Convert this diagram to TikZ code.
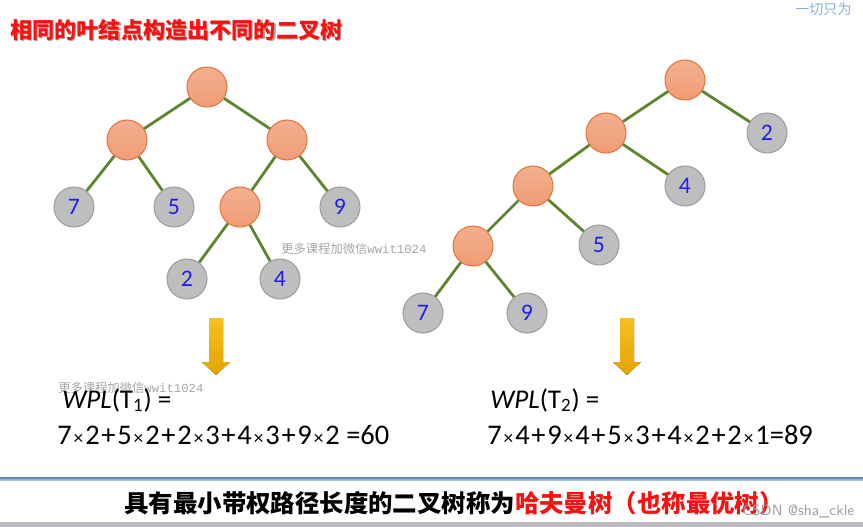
\documentclass[tikz,border=0pt]{standalone}
\usepackage{fontspec}
\usepackage{xcolor}
\usetikzlibrary{positioning}
\setmainfont{Carlito}
\newfontfamily\cjk{Noto Sans CJK SC}
\newfontfamily\monofont{Liberation Mono}
\definecolor{innerfill}{RGB}{240,156,116}
\definecolor{innerdraw}{RGB}{226,118,66}
\definecolor{leaffill}{RGB}{190,190,192}
\definecolor{leafdraw}{RGB}{158,158,160}
\definecolor{edgegreen}{RGB}{92,134,48}
\definecolor{digitblue}{RGB}{32,32,228}
\definecolor{arrowtop}{RGB}{246,192,32}
\definecolor{arrowbottom}{RGB}{228,164,0}
\definecolor{ruleblue}{RGB}{104,156,212}
\definecolor{bandgray}{RGB}{186,186,196}
\definecolor{titlered}{RGB}{250,16,16}
\newcommand{\by}{\kern1.1pt{\fontsize{11}{12}\selectfont ×}\kern1.1pt}
\newcommand{\pl}{\kern1pt+\kern1pt}

\begin{document}
\begin{tikzpicture}[
    x=0.02cm, y=-0.02cm,
    inner/.style={circle, draw=innerdraw, line width=0.6pt, top color=innerfill!80!white, bottom color=innerfill, minimum size=0.8cm, inner sep=0pt},
    leaf/.style={circle, draw=leafdraw, line width=0.6pt, fill=leaffill, minimum size=0.8cm, inner sep=0pt, text=digitblue, font=\fontsize{13.5}{14}\selectfont},
    edge/.style={draw=edgegreen, line width=1.6pt},
    bigarrow/.style={top color=arrowtop, bottom color=arrowbottom, draw=none},
    wmark/.style={text=gray!70, font=\monofont\fontsize{7}{8}\selectfont, inner sep=0pt}
]
    \useasboundingbox (0,0) rectangle (863,527);

    % Title
    \node[anchor=west, text=black!35, font=\cjk\bfseries\fontsize{12.6}{14}\selectfont, inner sep=0pt] (titleshadow) at (11.2,31.2) {相同的叶结点构造出不同的二叉树};
    \node[anchor=west, text=titlered, font=\cjk\bfseries\fontsize{12.6}{14}\selectfont, inner sep=0pt] (title) at (10,30) {相同的叶结点构造出不同的二叉树};
    \node[anchor=west, text=ruleblue!80, font=\cjk\fontsize{8}{9}\selectfont, inner sep=0pt] (motto) at (795,9) {一切只为};

    % Tree T1
    \node[inner] (a) at (207,87) {};
    \node[inner] (al) at (127,140) {};
    \node[inner] (ar) at (287,140) {};
    \node[leaf] (a7) at (74,207) {7};
    \node[leaf] (a5) at (174,207) {5};
    \node[inner] (arl) at (240,207) {};
    \node[leaf] (a9) at (340,207) {9};
    \node[leaf] (a2) at (187,279) {2};
    \node[leaf] (a4) at (280,279) {4};

    \draw[edge] (a) -- (al);
    \draw[edge] (a) -- (ar);
    \draw[edge] (al) -- (a7);
    \draw[edge] (al) -- (a5);
    \draw[edge] (ar) -- (arl);
    \draw[edge] (ar) -- (a9);
    \draw[edge] (arl) -- (a2);
    \draw[edge] (arl) -- (a4);

    % Tree T2
    \node[inner] (b) at (685,80) {};
    \node[inner] (bl) at (606,133) {};
    \node[leaf] (b2) at (767,133) {2};
    \node[inner] (bll) at (533,186) {};
    \node[leaf] (b4) at (685,186) {4};
    \node[inner] (blll) at (473,246) {};
    \node[leaf] (b5) at (599,245) {5};
    \node[leaf] (b7) at (423,313) {7};
    \node[leaf] (b9) at (527,313) {9};

    \draw[edge] (b) -- (bl);
    \draw[edge] (b) -- (b2);
    \draw[edge] (bl) -- (bll);
    \draw[edge] (bl) -- (b4);
    \draw[edge] (bll) -- (blll);
    \draw[edge] (bll) -- (b5);
    \draw[edge] (blll) -- (b7);
    \draw[edge] (blll) -- (b9);

    % Watermarks
    \node[wmark, anchor=west] (wm1) at (281,249) {{\cjk 更多课程加微信}wwit1024};
    \node[wmark, anchor=west] (wm2) at (58,388) {{\cjk 更多课程加微信}wwit1024};

    % Down arrows
    \fill[bigarrow] (209,318) -- (223,318) -- (223,362) -- (230,362) -- (216,375) -- (202,362) -- (209,362) -- cycle;
    \fill[bigarrow] (620,318) -- (634,318) -- (634,362) -- (641,362) -- (627,375) -- (613,362) -- (620,362) -- cycle;

    % Path lengths
    \node[anchor=base west, inner sep=0pt, font=\fontsize{15.4}{18}\selectfont] (wpl1) at (62,408) {\textit{WPL}(T\textsubscript{1}) =};
    \node[anchor=base west, inner sep=0pt, font=\fontsize{16.2}{18}\selectfont] (sum1) at (57,444) {7\by2\pl5\by2\pl2\by3\pl4\by3\pl9\by2 =60};
    \node[anchor=base west, inner sep=0pt, font=\fontsize{15.4}{18}\selectfont] (wpl2) at (490,408) {\textit{WPL}(T\textsubscript{2}) =};
    \node[anchor=base west, inner sep=0pt, font=\fontsize{16.2}{18}\selectfont] (sum2) at (487,444) {7\by4\pl9\by4\pl5\by3\pl4\by2\pl2\by1=89};

    % Bottom band
    \fill[top color=ruleblue!80!black, bottom color=ruleblue!60] (0,477) rectangle (863,480);
    \fill[bandgray] (0,522) rectangle (863,527);
    \node[anchor=west, inner sep=0pt, font=\cjk\bfseries\fontsize{13.9}{15}\selectfont] (summary) at (124,503) {具有最小带权路径长度的二叉树称为\textcolor{titlered}{哈夫曼树（也称最优树）}};
    \node[anchor=west, inner sep=0pt, text=gray!75, font=\fontsize{8.5}{9}\selectfont\sffamily] (csdn) at (742,511) {CSDN @sha\_ckle};
\end{tikzpicture}
\end{document}
